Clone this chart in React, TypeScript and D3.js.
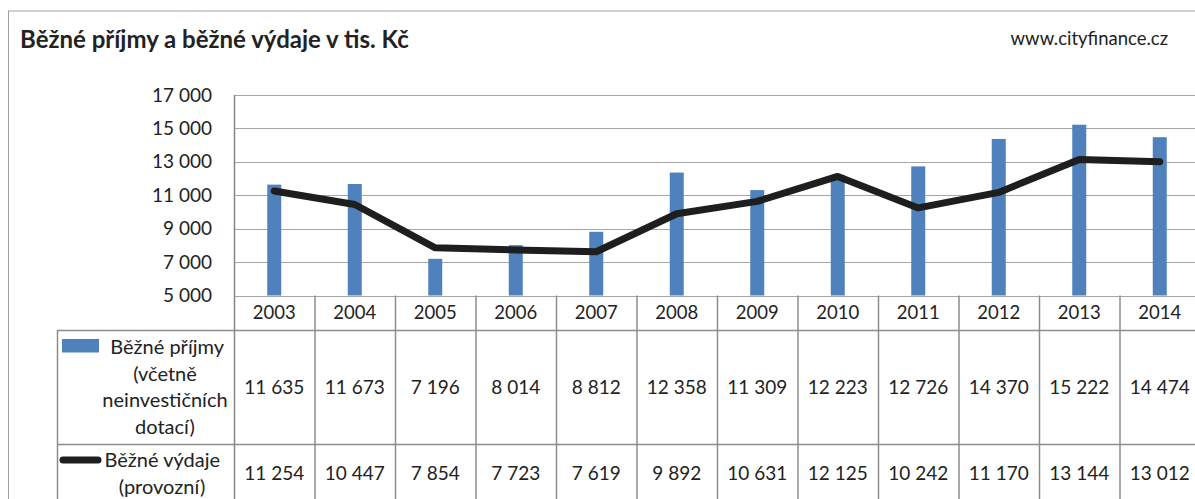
import React from "react";
import * as d3 from "d3";

const years = ["2003","2004","2005","2006","2007","2008","2009","2010","2011","2012","2013","2014"];
const prijmy = [11635,11673,7196,8014,8812,12358,11309,12223,12726,14370,15222,14474];
const vydaje = [11254,10447,7854,7723,7619,9892,10631,12125,10242,11170,13144,13012];
const yTicks = [5000,7000,9000,11000,13000,15000,17000];
const title = "Běžné příjmy a běžné výdaje v tis. Kč";
const source = "www.cityfinance.cz";
const legend1 = ["Běžné příjmy", "(včetně", "neinvestičních", "dotací)"];
const legend2 = ["Běžné výdaje", "(provozní)"];

const fmt = (v: number) => {
  const s = String(v);
  return s.length > 3 ? s.slice(0, s.length - 3) + " " + s.slice(-3) : s;
};

export default function App() {
  const W = 1195, H = 499;
  const left = 234, right = 1200, top = 95, bottom = 295.5;
  const x = d3.scaleBand().domain(years).range([left, right]).padding(0);
  const y = d3.scaleLinear().domain([5000, 17000]).range([bottom, top]);
  const bw = 14;
  const line = d3.line<number>().x((_, i) => x(years[i])! + x.bandwidth() / 2).y(d => y(d));
  const font = "Lato, 'Open Sans', sans-serif";
  const grid = "#a6a6a6";
  const tbl = "#8c8c8c";
  const textC = "#222";
  const r1Top = 330, r2Top = 444;
  return (
    <svg width={W} height={H} style={{ position: "absolute", left: 0, top: 0 }} fontFamily={font}>
      <rect x={0} y={0} width={W} height={H} fill="#fff" />
      {/* outer border */}
      <line x1={8} y1={11} x2={W} y2={11} stroke="#a0a0a0" strokeWidth={1} />
      <line x1={8.5} y1={11} x2={8.5} y2={H} stroke="#a0a0a0" strokeWidth={1} />
      <text x={20} y={48} fontSize={24} fontWeight="bold" fill={textC}>{title}</text>
      <text x={1168} y={45} fontSize={18.5} fill={textC} textAnchor="end">{source}</text>
      {/* gridlines */}
      {yTicks.map(t => (
        <g key={t}>
          <line x1={left} x2={W} y1={Math.round(y(t)) + 0.5} y2={Math.round(y(t)) + 0.5} stroke={grid} strokeWidth={1} />
          <text x={212} y={y(t)} dy="0.35em" textAnchor="end" fontSize={19} fill={textC}>{fmt(t)}</text>
        </g>
      ))}
      {/* bars */}
      {prijmy.map((v, i) => (
        <rect key={years[i]} x={x(years[i])! + x.bandwidth() / 2 - bw / 2} y={y(v)} width={bw} height={y(5000) - y(v)} fill="#4f81bd" />
      ))}
      <path d={line(vydaje) || ""} fill="none" stroke="#1e1e1e" strokeWidth={7} strokeLinejoin="round" strokeLinecap="round" />
      {/* axis line */}
      <line x1={left + 0.5} x2={left + 0.5} y1={top} y2={H} stroke="#868686" strokeWidth={1.5} />
      {/* table */}
      <line x1={57} x2={W} y1={r1Top + 0.5} y2={r1Top + 0.5} stroke={tbl} strokeWidth={1.5} />
      <line x1={57} x2={W} y1={r2Top + 0.5} y2={r2Top + 0.5} stroke={tbl} strokeWidth={1.5} />
      <line x1={57.5} x2={57.5} y1={r1Top} y2={H} stroke={tbl} strokeWidth={1.5} />
      {years.map((yr, i) => (
        <g key={yr}>
          {i > 0 && <line x1={x(yr)! + 0.5} x2={x(yr)! + 0.5} y1={bottom} y2={H} stroke={tbl} strokeWidth={1.5} />}
          <text x={x(yr)! + x.bandwidth() / 2} y={313} dy="0.35em" textAnchor="middle" fontSize={18.5} fill={textC}>{yr}</text>
          <text x={x(yr)! + x.bandwidth() / 2} y={387} dy="0.35em" textAnchor="middle" fontSize={19} fill={textC}>{fmt(prijmy[i])}</text>
          <text x={x(yr)! + x.bandwidth() / 2} y={473} dy="0.35em" textAnchor="middle" fontSize={19} fill={textC}>{fmt(vydaje[i])}</text>
        </g>
      ))}
      {/* legend keys */}
      <rect x={62} y={339} width={37} height={13.5} fill="#4f81bd" />
      <line x1={63} x2={98} y1={460} y2={460} stroke="#1e1e1e" strokeWidth={7} strokeLinecap="round" />
      {legend1.map((s, i) => (
        <text key={s} x={i === 0 ? 224 : 165} y={347 + i * 26.5} dy="0.35em" textAnchor={i === 0 ? "end" : "middle"} fontSize={20} fill={textC}>{s}</text>
      ))}
      {legend2.map((s, i) => (
        <text key={s} x={i === 0 ? 220 : 162} y={460 + i * 27} dy="0.35em" textAnchor={i === 0 ? "end" : "middle"} fontSize={20} fill={textC}>{s}</text>
      ))}
    </svg>
  );
}
